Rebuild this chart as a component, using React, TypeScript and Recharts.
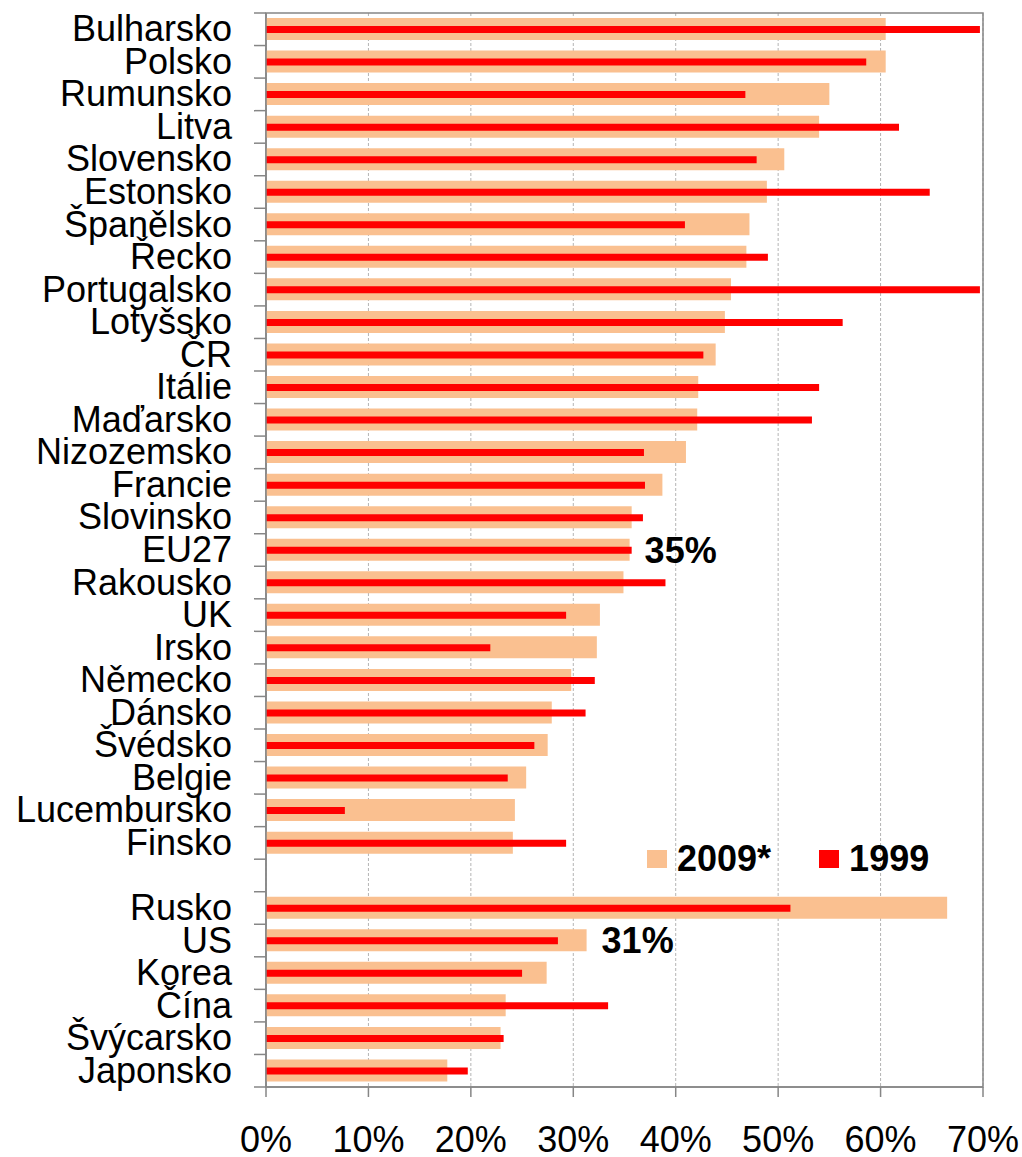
import React from 'react';
import {
  BarChart,
  Bar,
  XAxis,
  YAxis,
  CartesianGrid,
  ReferenceArea,
  LabelList,
} from 'recharts';

const countries = [
  'Bulharsko', 'Polsko', 'Rumunsko', 'Litva', 'Slovensko', 'Estonsko', 'Španělsko', 'Řecko',
  'Portugalsko', 'Lotyšsko', 'ČR', 'Itálie', 'Maďarsko', 'Nizozemsko', 'Francie', 'Slovinsko',
  'EU27', 'Rakousko', 'UK', 'Irsko', 'Německo', 'Dánsko', 'Švédsko', 'Belgie', 'Lucembursko',
  'Finsko', '', 'Rusko', 'US', 'Korea', 'Čína', 'Švýcarsko', 'Japonsko',
];

const values2009 = [
  60.5, 60.5, 55.0, 54.0, 50.6, 48.9, 47.2, 46.9, 45.4, 44.8, 43.9, 42.2, 42.1, 41.0, 38.7, 35.7,
  35.5, 34.9, 32.6, 32.3, 29.8, 27.9, 27.5, 25.4, 24.3, 24.1, null, 66.5, 31.3, 27.4, 23.4, 22.9, 17.7,
];

const values1999 = [
  69.7, 58.6, 46.8, 61.8, 47.9, 64.8, 40.9, 49.0, 69.7, 56.3, 42.7, 54.0, 53.3, 36.9, 37.0, 36.8,
  35.7, 39.0, 29.3, 21.9, 32.1, 31.2, 26.2, 23.6, 7.7, 29.3, null, 51.2, 28.5, 25.0, 33.4, 23.2, 19.7,
];

// bold callouts next to the 2009 bar
const notes: Record<string, string> = { EU27: '35%', US: '31%' };

const xTicks = [0, 10, 20, 30, 40, 50, 60, 70];

const series = [
  { key: 'v2009', name: '2009*', color: '#FAC090' },
  { key: 'v1999', name: '1999', color: '#FF0000' },
];

const data = countries.map((country, i) => ({
  country,
  v2009: values2009[i],
  v1999: values1999[i],
  note: notes[country] ?? '',
}));

const W = 1022;
const H = 1157;
const MARGIN = { top: 13, right: 39, left: 0, bottom: 0 };
const X_AXIS_H = 70;
const ROW_H = (H - MARGIN.top - MARGIN.bottom - X_AXIS_H) / countries.length;
const AXIS_GREY = '#868686';
const FONT = '"Liberation Sans", Arial, sans-serif';

function CountryTick(props: any) {
  const { x, y, payload, index } = props;
  const axisX = x + 34;
  const half = ROW_H / 2;
  return (
    <g>
      <text x={x} y={y} dy={12} textAnchor="end" fontSize={36} fill="#000">
        {payload.value}
      </text>
      <line x1={axisX - 12} x2={axisX} y1={y - half} y2={y - half} stroke={AXIS_GREY} strokeWidth={1.5} />
      {index === countries.length - 1 && (
        <line x1={axisX - 12} x2={axisX} y1={y + half} y2={y + half} stroke={AXIS_GREY} strokeWidth={1.5} />
      )}
    </g>
  );
}

function NoteLabel(props: any) {
  const { x, y, width, height, value } = props;
  if (!value) return null;
  return (
    <text
      x={x + width + 15}
      y={y + height / 2}
      dy="0.36em"
      fontSize={36}
      fontWeight="bold"
      fill="#000"
    >
      {value}
    </text>
  );
}

export default function App() {
  return (
    <div style={{ position: 'relative', width: W, height: H, fontFamily: FONT, background: '#fff' }}>
      <style>{'body{margin:0}'}</style>
      <BarChart
        width={W}
        height={H}
        data={data}
        layout="vertical"
        margin={MARGIN}
        barGap={0}
      >
        <CartesianGrid
          yAxisId="a"
          horizontal={false}
          stroke="#b4b4b4"
          strokeDasharray="3 2"
        />
        <XAxis
          type="number"
          domain={[0, 70]}
          ticks={xTicks}
          allowDataOverflow
          height={X_AXIS_H}
          tickFormatter={(v) => `${v}%`}
          tick={{ fontSize: 36, fill: '#000' }}
          tickSize={10}
          tickMargin={29}
          axisLine={{ stroke: AXIS_GREY, strokeWidth: 1.5 }}
          tickLine={{ stroke: AXIS_GREY, strokeWidth: 1.5 }}
        />
        <YAxis
          yAxisId="a"
          type="category"
          dataKey="country"
          width={266}
          interval={0}
          tickSize={12}
          tickMargin={22}
          tickLine={false}
          tick={<CountryTick />}
          axisLine={{ stroke: AXIS_GREY, strokeWidth: 1.5 }}
        />
        <YAxis yAxisId="b" type="category" dataKey="country" hide />
        <ReferenceArea
          yAxisId="a"
          x1={0}
          x2={70}
          fill="none"
          stroke={AXIS_GREY}
          strokeWidth={1.5}
          ifOverflow="visible"
        />
        <Bar
          yAxisId="a"
          dataKey="v2009"
          name="2009*"
          fill={series[0].color}
          barSize={22}
          isAnimationActive={false}
        >
          <LabelList dataKey="note" content={<NoteLabel />} />
        </Bar>
        <Bar
          yAxisId="b"
          dataKey="v1999"
          name="1999"
          fill={series[1].color}
          barSize={7}
          isAnimationActive={false}
        />
      </BarChart>
      <div
        style={{
          position: 'absolute',
          left: 647,
          top: 841,
          display: 'flex',
          alignItems: 'center',
          gap: 48,
          fontSize: 36,
          fontWeight: 'bold',
          lineHeight: '36px',
        }}
      >
        {series.map((s) => (
          <div key={s.key} style={{ display: 'flex', alignItems: 'center' }}>
            <span style={{ width: 20, height: 18, background: s.color, marginRight: 10, display: 'inline-block' }} />
            <span>{s.name}</span>
          </div>
        ))}
      </div>
    </div>
  );
}
